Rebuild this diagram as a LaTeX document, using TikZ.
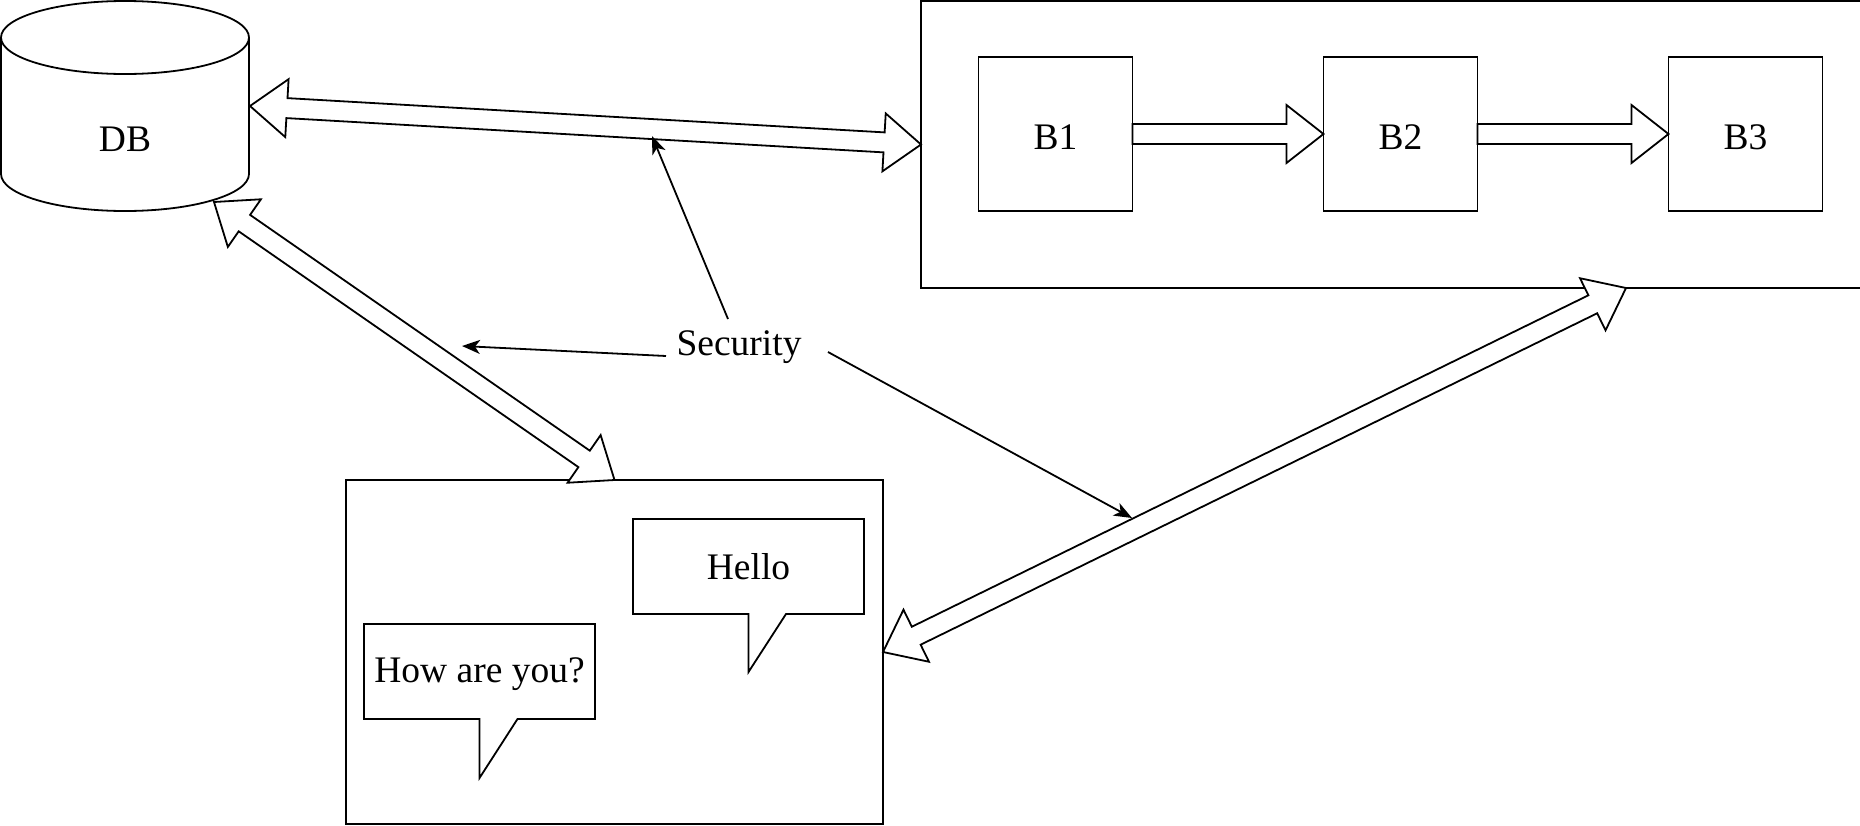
\documentclass[tikz,border=0pt]{standalone}
\usepackage{fontspec}
\setmainfont{Liberation Serif}
\usetikzlibrary{calc,arrows.meta}
\newcommand{\BAlen}{37pt}
\newcommand{\BAhead}{29pt}
\newcommand{\BAshaft}{10pt}
% double-headed block arrow between two named points
\newcommand{\dblblock}[2]{%
  \coordinate (BAp) at ($(#1)!\BAlen!(#2)$);
  \coordinate (BAq) at ($(#2)!\BAlen!(#1)$);
  \draw[blk] (#1) -- ($(BAp)!\BAhead!90:(BAq)$) -- ($(BAp)!\BAshaft!90:(BAq)$)
    -- ($(BAq)!\BAshaft!-90:(BAp)$) -- ($(BAq)!\BAhead!-90:(BAp)$) -- (#2)
    -- ($(BAq)!\BAhead!90:(BAp)$) -- ($(BAq)!\BAshaft!90:(BAp)$)
    -- ($(BAp)!\BAshaft!-90:(BAq)$) -- ($(BAp)!\BAhead!-90:(BAq)$) -- cycle;}
% single-headed block arrow from #1 to #2
\newcommand{\oneblock}[2]{%
  \coordinate (BAq) at ($(#2)!\BAlen!(#1)$);
  \draw[blk] ($(#1)!\BAshaft!90:(#2)$) -- ($(BAq)!\BAshaft!-90:(#1)$)
    -- ($(BAq)!\BAhead!-90:(#1)$) -- (#2) -- ($(BAq)!\BAhead!90:(#1)$)
    -- ($(BAq)!\BAshaft!90:(#1)$) -- ($(#1)!\BAshaft!-90:(#2)$) -- cycle;}
\begin{document}
\begin{tikzpicture}[x=1pt,y=-1pt,line width=1.8pt,
  font=\fontsize{37.5}{45}\selectfont,
  box/.style={draw, rectangle, inner sep=0pt, outer sep=0pt},
  blk/.style={draw, fill=white, line join=miter},
  secarrow/.style={-{Stealth[length=18pt,width=14pt,inset=5pt]}},
  bubble/.style={rectangle, inner sep=0pt, outer sep=0pt, minimum width=231pt, minimum height=95pt}]
\clip (0,0) rectangle (1860,825);
\fill[white] (0,0) rectangle (1860,825);

% database cylinder
\draw (125,37.5) ellipse [x radius=124, y radius=36.5];
\draw (1,37.5) -- (1,174) arc [start angle=180, end angle=0, x radius=124, y radius=37] -- (249,37.5);
\node (db) at (125,139) {DB};
\coordinate (dbE) at (250,106);
\coordinate (dbS) at (214,202);

% container with B boxes
\node[box, minimum width=954pt, minimum height=287pt] (cont) at (1398,144.5) {};
\node[box, minimum width=154pt, minimum height=154pt] (bA) at (1055.5,134) {};
\node[box, minimum width=154pt, minimum height=154pt] (bB) at (1400.5,134) {};
\node[box, minimum width=154pt, minimum height=154pt] (bC) at (1745.5,134) {};
\node at ($(bA)+(0,3.5)$) {B1};
\node at ($(bB)+(0,3.5)$) {B2};
\node at ($(bC)+(0,3.5)$) {B3};
\coordinate (cB) at (1626,288);

% lower box with speech bubbles
\node[box, minimum width=537pt, minimum height=344pt] (low) at (614.5,652) {};
\node[bubble] (hello) at (748.5,566.5) {Hello};
\draw (hello.north west) -- (hello.north east) -- (hello.south east)
  -- ($(hello.south)+(37.5,0)$) -- ($(hello.south)+(0,58)$) -- (hello.south)
  -- (hello.south west) -- cycle;
\node[bubble] (how) at (479.5,671.5) {};
\node at ($(how)+(0,3)$) {How are you?};
\draw (how.north west) -- (how.north east) -- (how.south east)
  -- ($(how.south)+(38,0)$) -- ($(how.south)+(0,59)$) -- (how.south)
  -- (how.south west) -- cycle;

% block arrows
\oneblock{bA.east}{bB.west}
\oneblock{bB.east}{bC.west}
\dblblock{dbE}{cont.west}
\dblblock{dbS}{low.north}
\dblblock{cB}{low.east}

% security
\node (sec) at (739,347) {Security};
\coordinate (secN) at (728,319);
\coordinate (secW) at (666,356);
\coordinate (secE) at (828,352);
\coordinate (tTop) at (652,136);
\coordinate (tLeft) at (462,346);
\coordinate (tRight) at (1132,518);
\draw[secarrow] (secN) -- (tTop);
\draw[secarrow] (secW) -- (tLeft);
\draw[secarrow] (secE) -- (tRight);
\end{tikzpicture}
\end{document}
